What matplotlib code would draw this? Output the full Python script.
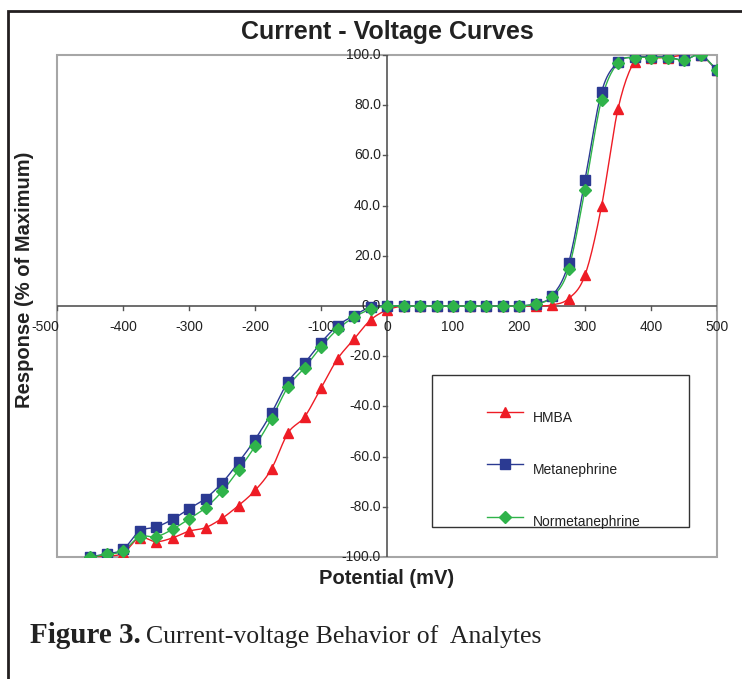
import numpy as np
import matplotlib
matplotlib.use('Agg')
import matplotlib.pyplot as plt
from matplotlib.patches import Rectangle
from matplotlib.lines import Line2D

# data (potential in mV, response in % of maximum)
potential = [-450, -425, -400, -375, -350, -325, -300, -275, -250, -225,
             -200, -175, -150, -125, -100, -75, -50, -25, 0,
             25, 50, 75, 100, 125, 150, 175, 200, 225, 250, 275, 300,
             325, 350, 375, 400, 425, 450, 475, 500]

hmba = [-100, -99.6, -98.5, -92.3, -93.9, -92.4, -89.7, -88.3, -84.6, -79.5,
        -73.5, -64.9, -50.6, -44.2, -32.7, -21.1, -13.2, -5.6, -1.6,
        0, 0, 0, 0, 0, 0, 0, 0, 0, 0.4, 2.9, 12.3,
        39.7, 78.5, 97.4, 98.7, 99.0, 100, 100, 94.0]

metanephrine = [-100, -98.7, -97.0, -89.7, -88.1, -85.0, -80.8, -76.7, -70.5, -62.3,
                -53.2, -42.6, -30.2, -22.8, -14.6, -7.9, -3.8, -0.5, 0,
                0, 0, 0, 0, 0, 0, 0, 0, 0.9, 4.0, 17.0, 50.2,
                85.2, 97.1, 99.2, 99.2, 99.2, 98.0, 100, 93.9]

normetanephrine = [-100, -99.0, -97.6, -91.9, -91.9, -89.0, -84.8, -80.4, -73.9, -65.3,
                   -55.9, -44.9, -32.2, -24.6, -16.3, -9.3, -4.5, -1.3, 0,
                   0, 0, 0, 0, 0, 0, 0, 0, 0.8, 3.6, 14.6, 46.4,
                   82.1, 97.0, 99.0, 99.0, 99.0, 98.0, 100, 94.0]

series_names = ['HMBA', 'Metanephrine', 'Normetanephrine']
x_ticks = list(range(-500, 501, 100))
y_ticks = list(range(-100, 101, 20))


def smooth(x, y, n=12):
    # cubic Hermite (Catmull-Rom) through the points, like Excel's smoothed line
    x = np.asarray(x, float)
    y = np.asarray(y, float)
    m = np.zeros_like(y)
    m[1:-1] = (y[2:] - y[:-2]) / 2
    m[0] = y[1] - y[0]
    m[-1] = y[-1] - y[-2]
    xs, ys = [], []
    for i in range(len(x) - 1):
        t = np.linspace(0, 1, n, endpoint=False)
        h00 = 2 * t**3 - 3 * t**2 + 1
        h10 = t**3 - 2 * t**2 + t
        h01 = -2 * t**3 + 3 * t**2
        h11 = t**3 - t**2
        xs.append(x[i] + t * (x[i + 1] - x[i]))
        ys.append(h00 * y[i] + h10 * m[i] + h01 * y[i + 1] + h11 * m[i + 1])
    xs.append([x[-1]])
    ys.append([y[-1]])
    return np.concatenate(xs), np.concatenate(ys)


plt.rcParams['font.family'] = ['Liberation Sans', 'DejaVu Sans']

fig = plt.figure(figsize=(7.42, 6.79), dpi=100)
W, H = 742, 679

# outer black frame (runs off the right and bottom edges)
fig.patches.append(Rectangle((8 / W, -0.1), 1.2, (H - 11) / H + 0.1,
                             transform=fig.transFigure, fill=False,
                             edgecolor='#231f20', linewidth=2.0))

ax = fig.add_axes([57 / W, (H - 557) / H, 660 / W, 502 / H])
ax.set_xlim(-500, 500)
ax.set_ylim(-100, 100)

colors = ['#ee1c25', '#2b3a92', '#2fb34a']
markers = ['^', 's', 'D']
sizes = [7, 7, 6]
for name, vals, c, mk, ms in zip(series_names, [hmba, metanephrine, normetanephrine],
                                 colors, markers, sizes):
    sx, sy = smooth(potential, vals)
    ax.plot(sx, sy, color=c, linewidth=1.0, zorder=3)
    ax.plot(potential, vals, linestyle='none', marker=mk, markersize=ms,
            color=c, markeredgecolor=c, zorder=4)

# plot area border in gray, axes crossing at zero
for s in ['top', 'right', 'left', 'bottom']:
    ax.spines[s].set_visible(False)
ax.add_patch(Rectangle((0, 0), 1, 1, transform=ax.transAxes, fill=False,
                       edgecolor='#a6a6a6', linewidth=1.5, zorder=1, clip_on=False))
ax.axhline(0, color='#555555', linewidth=1.2, zorder=2)
ax.axvline(0, color='#555555', linewidth=1.2, zorder=2)

ax.set_xticks([])
ax.set_yticks([])
# tick labels next to the zero lines
for v in x_ticks:
    if v == x_ticks[0]:
        ax.text(v + 4, -5.5, str(v), ha='right', va='top', fontsize=10, color='#222222')
    else:
        ax.text(v, -5.5, str(v), ha='center', va='top', fontsize=10, color='#222222')
    ax.plot([v, v], [0, -1.6], color='#555555', linewidth=1.0, zorder=2)
for v in y_ticks:
    ax.text(-9, v, f'{v:.1f}', ha='right', va='center', fontsize=10, color='#222222')
    ax.plot([0, -6], [v, v], color='#555555', linewidth=1.0, zorder=2)

fig.text(387 / W, (H - 32) / H, 'Current - Voltage Curves', ha='center', va='center',
         fontsize=18, fontweight='bold', color='#222222')
fig.text(25 / W, (H - 280) / H, 'Response (% of Maximum)', ha='center', va='center',
         rotation=90, fontsize=14.5, fontweight='bold', color='#222222')
fig.text(387 / W, (H - 578) / H, 'Potential (mV)', ha='center', va='center',
         fontsize=14.5, fontweight='bold', color='#222222')

# legend box
ax.add_patch(Rectangle(((432 - 57) / 660, (557 - 527) / 502), 257 / 660, 152 / 502,
                       transform=ax.transAxes, facecolor='white', edgecolor='#333333',
                       linewidth=1.0, zorder=5))
handles = [Line2D([], [], color=c, marker=mk, markersize=ms, linewidth=1.0)
           for c, mk, ms in zip(colors, markers, sizes)]
leg = ax.legend(handles, series_names, loc='upper left', frameon=False,
                bbox_to_anchor=((487 - 57) / 660, (557 - 406) / 502),
                borderpad=0, borderaxespad=0, handlelength=2.6, handletextpad=0.7,
                labelspacing=2.75, fontsize=10)
leg.set_zorder(6)
for t in leg.get_texts():
    t.set_color('#222222')
    t.set_y(-5)

# caption: bold part, then regular part on the same baseline
cap_y = (H - 643) / H
cap = fig.text(30 / W, cap_y, 'Figure 3.', ha='left', va='baseline',
               fontsize=21, fontweight='bold', family='Liberation Serif', color='#222222')
renderer = fig.canvas.get_renderer()
bb = cap.get_window_extent(renderer=renderer)
fig.text((bb.x1 + 5) / W, cap_y, 'Current-voltage Behavior of  Analytes', ha='left',
         va='baseline', fontsize=18.5, family='Liberation Serif', color='#222222')

fig.savefig('out.png', dpi=100)
